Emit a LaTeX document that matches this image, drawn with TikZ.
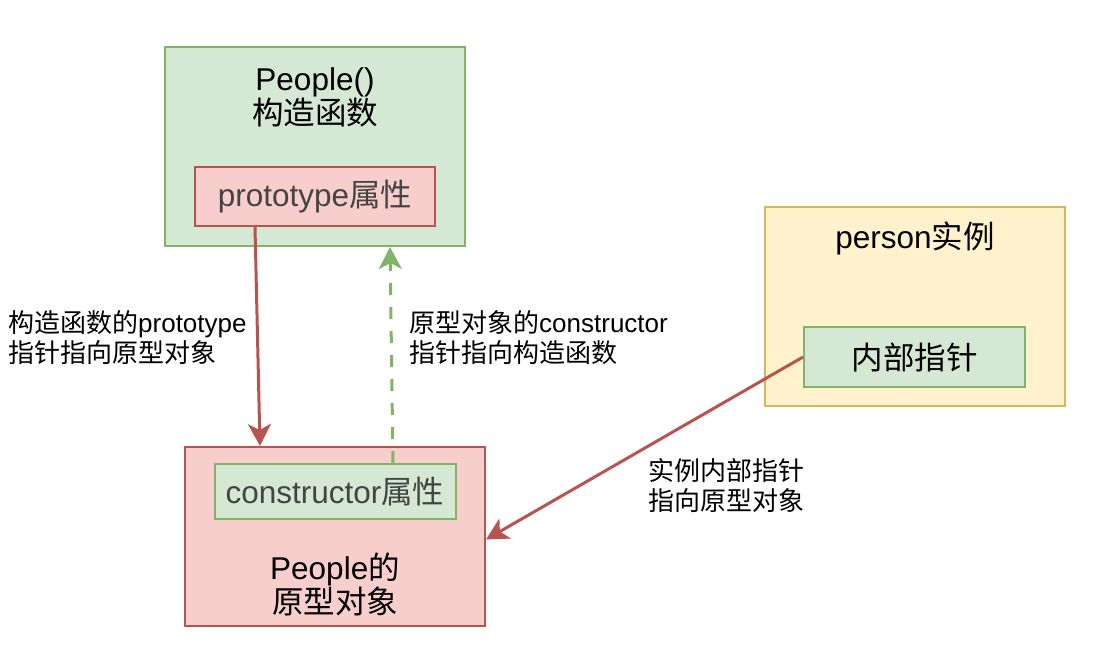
\documentclass[tikz,border=0pt]{standalone}
\usepackage{fontspec}
\setmainfont{Liberation Sans}
\newfontfamily\cjkfont{Noto Sans CJK SC}
\newcommand\zh[1]{{\cjkfont #1}}
\usetikzlibrary{arrows.meta}
\definecolor{gfill}{HTML}{D5E8D4}
\definecolor{gline}{HTML}{82B366}
\definecolor{rfill}{HTML}{F8CECC}
\definecolor{rline}{HTML}{B85450}
\definecolor{yfill}{HTML}{FFF2CC}
\definecolor{yline}{HTML}{D6B656}
\definecolor{greytext}{HTML}{444444}
\begin{document}
\begin{tikzpicture}[x=1pt,y=-1pt,
  box/.style={draw, line width=2pt, inner sep=0pt, rectangle},
  gbox/.style={box, fill=gfill, draw=gline},
  rbox/.style={box, fill=rfill, draw=rline},
  ybox/.style={box, fill=yfill, draw=yline},
  big/.style={font=\fontsize{31.5}{34}\selectfont, align=center},
  lab/.style={font=\fontsize{26}{30}\selectfont, align=left, anchor=west, inner sep=0pt},
  tip/.style={-{Stealth[length=22pt,width=23pt,inset=6pt]}},
  redarrow/.style={draw=rline, line width=3pt, tip},
  greenarrow/.style={draw=gline, line width=3pt, dash pattern=on 12pt off 12pt, tip}
]
\useasboundingbox (0,0) rectangle (1106,650);

% People() constructor
\node[gbox, minimum width=300pt, minimum height=199pt] (people) at (315,146.5) {};
\node[big] (peopletxt) at (315,97.5) {People()\\\zh{构造函数}};
\node[rbox, minimum width=240pt, minimum height=59pt, big, text=greytext] (proto) at (315,196.5) {prototype\zh{属性}};

% prototype object
\node[rbox, minimum width=300pt, minimum height=179pt] (obj) at (335,536.5) {};
\node[gbox, minimum width=241pt, minimum height=55pt, big, text=greytext] (ctor) at (335,491.5) {constructor\zh{属性}};
\node[big] (objtxt) at (335,584.5) {People\zh{的}\\\zh{原型对象}};

% person instance
\node[ybox, minimum width=300pt, minimum height=199pt] (person) at (915,306.5) {};
\node[big] (persontxt) at (915,238) {person\zh{实例}};
\node[gbox, minimum width=221pt, minimum height=60pt, big] (inner) at (914.5,357) {\zh{内部指针}};

% arrows
\draw[redarrow] ([xshift=-60pt]proto.south) -- ([xshift=-75pt]obj.north);
\draw[greenarrow] ([xshift=58pt]ctor.north) -- ([xshift=75pt]people.south);
\draw[redarrow] (inner.west) -- ([yshift=-3pt]obj.east);

% labels
\node[lab] (lab1) at (8,338) {\zh{构造函数的}prototype\\\zh{指针指向原型对象}};
\node[lab] (lab2) at (409,338) {\zh{原型对象的}constructor\\\zh{指针指向构造函数}};
\node[lab] (lab3) at (648,486) {\zh{实例内部指针}\\\zh{指向原型对象}};
\end{tikzpicture}
\end{document}
